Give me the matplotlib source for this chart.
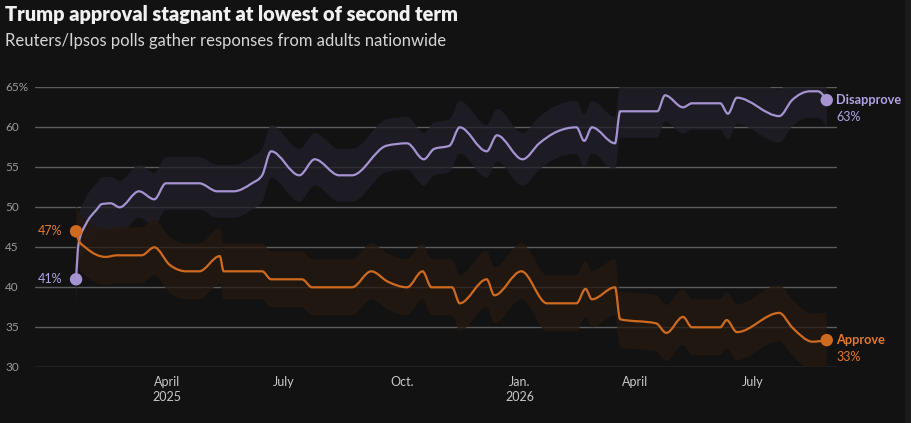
import numpy as np
import pandas as pd
import matplotlib
matplotlib.use("Agg")
import matplotlib.pyplot as plt
import matplotlib.dates as mdates
import matplotlib.transforms as mtransforms
from matplotlib.patches import Rectangle, PathPatch
from matplotlib.path import Path

plt.rcParams["font.family"] = ["Lato", "DejaVu Sans"]

# Reuters/Ipsos trend lines
dis_dates = [
    "2025-01-20", "2025-01-22", "2025-01-28", "2025-02-05", "2025-02-09", "2025-02-16",
    "2025-02-23", "2025-03-10", "2025-03-22", "2025-03-31", "2025-04-26", "2025-05-10",
    "2025-05-23", "2025-06-06", "2025-06-14", "2025-06-21", "2025-07-13", "2025-07-25",
    "2025-08-13", "2025-08-23", "2025-09-19", "2025-10-05", "2025-10-18", "2025-10-26",
    "2025-11-07", "2025-11-15", "2025-12-06", "2025-12-14", "2026-01-03", "2026-01-16",
    "2026-01-29", "2026-02-14", "2026-02-20", "2026-02-26", "2026-03-16", "2026-03-20",
    "2026-04-18", "2026-04-24", "2026-05-08", "2026-05-15", "2026-06-06", "2026-06-12",
    "2026-06-19", "2026-07-22", "2026-08-01", "2026-08-15", "2026-08-21", "2026-08-28",
]
dis_values = [
    41.0, 45.5, 48.0, 49.7, 50.4, 50.5,
    50.0, 52.0, 51.0, 53.0, 53.0, 52.0,
    52.0, 53.0, 54.0, 57.0, 54.0, 56.0,
    54.0, 54.0, 57.7, 58.0, 56.0, 57.3,
    57.7, 60.0, 57.0, 59.0, 56.0, 58.0,
    59.4, 60.0, 58.3, 60.0, 58.0, 62.0,
    62.0, 64.0, 62.5, 63.0, 63.0, 61.7,
    63.7, 61.4, 63.4, 64.5, 64.5, 63.4,
]

app_dates = [
    "2025-01-20", "2025-01-22", "2025-01-28", "2025-02-12", "2025-02-21", "2025-03-12",
    "2025-03-22", "2025-04-03", "2025-04-16", "2025-04-26", "2025-05-12", "2025-05-15",
    "2025-06-14", "2025-06-21", "2025-07-15", "2025-07-23", "2025-08-23", "2025-09-07",
    "2025-09-20", "2025-10-05", "2025-10-17", "2025-10-24", "2025-11-09", "2025-11-15",
    "2025-12-06", "2025-12-12", "2026-01-02", "2026-01-22", "2026-02-14", "2026-02-21",
    "2026-02-26", "2026-03-16", "2026-03-20", "2026-04-17", "2026-04-25", "2026-05-08",
    "2026-05-15", "2026-06-06", "2026-06-11", "2026-06-19", "2026-07-22", "2026-08-01",
    "2026-08-17", "2026-08-28",
]
app_values = [
    47.0, 45.9, 44.9, 43.8, 44.0, 44.0,
    45.0, 42.8, 42.0, 42.0, 43.9, 42.0,
    42.0, 41.0, 41.0, 40.0, 40.0, 42.0,
    40.7, 40.0, 42.0, 40.0, 40.0, 38.0,
    41.0, 39.0, 42.0, 38.0, 38.0, 39.8,
    38.5, 40.0, 36.0, 35.5, 34.3, 36.3,
    35.0, 35.0, 35.9, 34.4, 36.8, 35.0,
    33.2, 33.4,
]

# margin of the shaded band around each trend line
dis_margin = 3.3
app_margin = 3.5

yticks = [30, 35, 40, 45, 50, 55, 60, 65]
ytick_labels = ["30", "35", "40", "45", "50", "55", "60", "65%"]
xtick_dates = ["2025-04-01", "2025-07-01", "2025-10-01", "2026-01-01", "2026-04-01", "2026-07-01"]
xtick_labels = ["April\n2025", "July", "Oct.", "Jan.\n2026", "April", "July"]

BG = "#121212"
PURPLE = "#a593d2"
PURPLE_TXT = "#b3a2e6"
ORANGE = "#cf6a1f"
ORANGE_TXT = "#e07a30"
GRID = "#5c5c5c"
TICK = "#9a9a9a"


def monotone_curve(x, y):
    """Bezier vertices for a monotone-x curve through the points (like d3.curveMonotoneX)."""
    n = len(x)
    h = np.diff(x)
    s = np.diff(y) / h
    t = np.zeros(n)
    for i in range(1, n - 1):
        p = (s[i - 1] * h[i] + s[i] * h[i - 1]) / (h[i - 1] + h[i])
        t[i] = (np.sign(s[i - 1]) + np.sign(s[i])) * min(abs(s[i - 1]), abs(s[i]), 0.5 * abs(p))
    t[0] = (3 * s[0] - t[1]) / 2
    t[-1] = (3 * s[-1] - t[-2]) / 2
    verts = [(x[0], y[0])]
    for i in range(n - 1):
        d = h[i] / 3
        verts += [(x[i] + d, y[i] + d * t[i]), (x[i + 1] - d, y[i + 1] - d * t[i + 1]),
                  (x[i + 1], y[i + 1])]
    return verts


def line_path(x, y):
    verts = monotone_curve(x, y)
    codes = [Path.MOVETO] + [Path.CURVE4] * (len(verts) - 1)
    return Path(verts, codes)


def band_path(x, lo, hi):
    upper = monotone_curve(x, hi)
    lower = monotone_curve(x, lo)[::-1]
    verts = upper + lower + [upper[0]]
    codes = ([Path.MOVETO] + [Path.CURVE4] * (len(upper) - 1)
             + [Path.LINETO] + [Path.CURVE4] * (len(lower) - 1) + [Path.CLOSEPOLY])
    return Path(verts, codes)


dis_x = mdates.date2num(pd.to_datetime(dis_dates))
app_x = mdates.date2num(pd.to_datetime(app_dates))
dis_y = np.array(dis_values)
app_y = np.array(app_values)

fig = plt.figure(figsize=(9.12, 4.23), dpi=100, facecolor=BG)
fig.patches.append(Rectangle((905 / 912, 0), 7 / 912, 1, transform=fig.transFigure,
                             facecolor="#1b1b1b", edgecolor="none", zorder=0))
ax = fig.add_axes([35 / 912, (423 - 367.3) / 423, 802 / 912, 280 / 423])
ax.set_facecolor(BG)

ax.set_xlim(mdates.date2num(pd.Timestamp("2024-12-19")), mdates.date2num(pd.Timestamp("2026-09-05")))
ax.set_ylim(30, 65)

for y in yticks:
    ax.axhline(y, color=GRID, lw=1, zorder=1)

ax.add_patch(PathPatch(band_path(dis_x, dis_y - dis_margin, dis_y + dis_margin),
                       facecolor="#211f29", edgecolor="none", alpha=0.75, zorder=2))
ax.add_patch(PathPatch(band_path(app_x, app_y - app_margin, app_y + app_margin),
                       facecolor="#251910", edgecolor="none", alpha=0.75, zorder=2))

ax.add_patch(PathPatch(line_path(dis_x, dis_y), facecolor="none", edgecolor=PURPLE,
                       lw=1.6, zorder=4))
ax.add_patch(PathPatch(line_path(app_x, app_y), facecolor="none", edgecolor=ORANGE,
                       lw=1.6, zorder=4))

for xs, ys, c in [(dis_x, dis_y, PURPLE), (app_x, app_y, ORANGE)]:
    ax.scatter([xs[0], xs[-1]], [ys[0], ys[-1]], s=80, color=c, zorder=5, clip_on=False,
               edgecolors="none")

# start labels
ax.annotate(f"{app_y[0]:.0f}%", (app_x[0], app_y[0]), xytext=(-10, 0),
            textcoords="offset points", ha="right", va="center", color=ORANGE_TXT, fontsize=9)
ax.annotate(f"{dis_y[0]:.0f}%", (dis_x[0], dis_y[0]), xytext=(-10, 0),
            textcoords="offset points", ha="right", va="center", color=PURPLE_TXT, fontsize=9)

# end labels
ax.annotate("Disapprove", (dis_x[-1], dis_y[-1]), xytext=(7, 0), textcoords="offset points",
            ha="left", va="center", color=PURPLE_TXT, fontsize=9.2, fontweight="bold",
            annotation_clip=False)
ax.annotate(f"{dis_y[-1]:.0f}%", (dis_x[-1], dis_y[-1]), xytext=(7, -12),
            textcoords="offset points", ha="left", va="center", color=PURPLE_TXT,
            fontsize=9, annotation_clip=False)
ax.annotate("Approve", (app_x[-1], app_y[-1]), xytext=(7, 0), textcoords="offset points",
            ha="left", va="center", color=ORANGE_TXT, fontsize=9.2, fontweight="bold",
            annotation_clip=False)
ax.annotate(f"{app_y[-1]:.0f}%", (app_x[-1], app_y[-1]), xytext=(7, -12),
            textcoords="offset points", ha="left", va="center", color=ORANGE_TXT,
            fontsize=9, annotation_clip=False)

# y tick labels sit at the left edge of the figure
trans = mtransforms.blended_transform_factory(fig.transFigure, ax.transData)
for y, lab in zip(yticks, ytick_labels):
    ax.text(5 / 912, y, lab, transform=trans, ha="left", va="center", color=TICK, fontsize=8.5)

ax.set_yticks([])
ax.set_xticks(mdates.date2num(pd.to_datetime(xtick_dates)))
ax.set_xticklabels(xtick_labels, color="#c8c8c8", fontsize=9, linespacing=1.3)
ax.tick_params(axis="x", length=0, pad=6)
for s in ax.spines.values():
    s.set_visible(False)

fig.text(5 / 912, 1 - 15 / 423, "Trump approval stagnant at lowest of second term",
         ha="left", va="center", color="#f0f0f0", fontsize=14.4, fontweight="heavy")
fig.text(5 / 912, 1 - 41 / 423, "Reuters/Ipsos polls gather responses from adults nationwide",
         ha="left", va="center", color="#d6d6d6", fontsize=12)

fig.savefig("out.png", dpi=100, facecolor=BG)
